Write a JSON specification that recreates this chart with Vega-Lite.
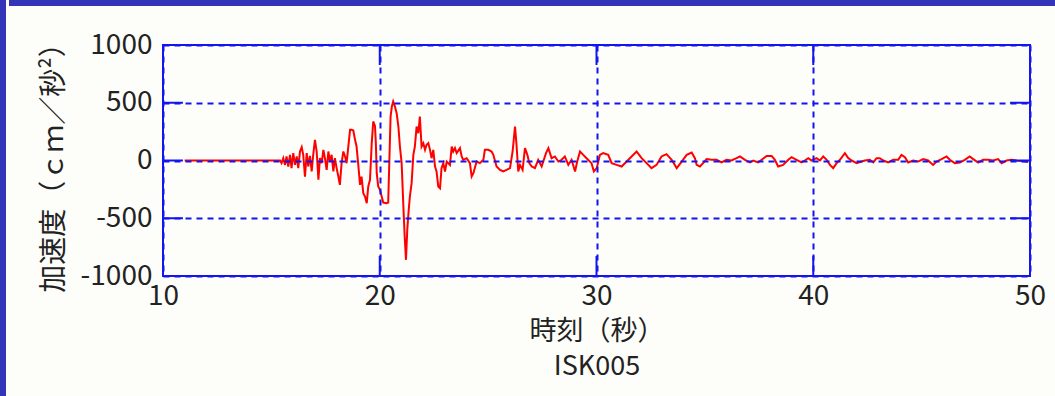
{
  "$schema": "https://vega.github.io/schema/vega-lite/v6.json",
  "background": "#fdfdf9",
  "padding": 0,
  "spacing": 0,
  "config": {
    "font": "Noto Sans CJK JP",
    "view": {"stroke": null},
    "concat": {"spacing": 0}
  },
  "hconcat": [
    {
      "data": {"values": [{}]},
      "width": 6,
      "height": 396,
      "view": {"fill": "#3434b9", "stroke": null},
      "mark": {"type": "point", "opacity": 0}
    },
    {
      "spacing": 21,
      "vconcat": [
        {
          "data": {"values": [{}]},
          "width": 1049,
          "height": 6,
          "view": {"fill": "#3434b9", "stroke": null},
          "mark": {"type": "point", "opacity": 0}
        },
        {
          "spacing": 26,
          "hconcat": [
            {
              "data": {"values": [{}]},
              "width": 1,
              "height": 1,
              "mark": {"type": "point", "opacity": 0}
            },
            {
              "width": 867,
              "height": 231,
              "view": {"stroke": "#1414f0", "strokeWidth": 2},
              "layer": [
                {
                  "data": {"values": [
                    {"t": 11.0, "a": 0}, {"t": 15.40, "a": 0}, {"t": 15.47, "a": -23}, {"t": 15.55, "a": 20},
                    {"t": 15.63, "a": -38}, {"t": 15.70, "a": 35}, {"t": 15.78, "a": -52}, {"t": 15.86, "a": 49},
                    {"t": 15.93, "a": -66}, {"t": 16.01, "a": 64}, {"t": 16.09, "a": -38}, {"t": 16.17, "a": 35},
                    {"t": 16.24, "a": -66}, {"t": 16.32, "a": 78}, {"t": 16.40, "a": 115}, {"t": 16.47, "a": 49},
                    {"t": 16.55, "a": -139}, {"t": 16.63, "a": 64}, {"t": 16.70, "a": -52}, {"t": 16.78, "a": 40},
                    {"t": 16.86, "a": -95}, {"t": 16.93, "a": 49}, {"t": 17.01, "a": 179}, {"t": 17.09, "a": 78},
                    {"t": 17.17, "a": -167}, {"t": 17.24, "a": 20}, {"t": 17.32, "a": -23}, {"t": 17.40, "a": 92},
                    {"t": 17.47, "a": 20}, {"t": 17.55, "a": -81}, {"t": 17.63, "a": 78}, {"t": 17.70, "a": -9},
                    {"t": 17.78, "a": 49}, {"t": 17.86, "a": -95}, {"t": 17.93, "a": 20}, {"t": 18.01, "a": -66},
                    {"t": 18.09, "a": -139}, {"t": 18.16, "a": -211}, {"t": 18.24, "a": -23}, {"t": 18.32, "a": 78},
                    {"t": 18.40, "a": 35}, {"t": 18.47, "a": -23}, {"t": 18.55, "a": 121}, {"t": 18.63, "a": 266},
                    {"t": 18.70, "a": 266}, {"t": 18.78, "a": 260}, {"t": 18.86, "a": 179}, {"t": 18.93, "a": 121},
                    {"t": 19.01, "a": -38}, {"t": 19.09, "a": -211}, {"t": 19.16, "a": -139}, {"t": 19.24, "a": -283},
                    {"t": 19.32, "a": -312}, {"t": 19.40, "a": -370}, {"t": 19.47, "a": -225}, {"t": 19.55, "a": -167},
                    {"t": 19.63, "a": 150}, {"t": 19.70, "a": 338}, {"t": 19.78, "a": 300}, {"t": 19.82, "a": 150},
                    {"t": 19.86, "a": -110}, {"t": 19.93, "a": -225}, {"t": 20.01, "a": -254}, {"t": 20.09, "a": -312},
                    {"t": 20.16, "a": -364}, {"t": 20.32, "a": -370}, {"t": 20.39, "a": -364}, {"t": 20.44, "a": -23},
                    {"t": 20.50, "a": 381}, {"t": 20.56, "a": 468}, {"t": 20.62, "a": 511}, {"t": 20.70, "a": 468},
                    {"t": 20.78, "a": 410}, {"t": 20.86, "a": 294}, {"t": 20.93, "a": 121}, {"t": 21.01, "a": -23},
                    {"t": 21.09, "a": -398}, {"t": 21.15, "a": -658}, {"t": 21.21, "a": -860}, {"t": 21.27, "a": -600},
                    {"t": 21.33, "a": -442}, {"t": 21.39, "a": -312}, {"t": 21.47, "a": -196}, {"t": 21.55, "a": 49},
                    {"t": 21.62, "a": 121}, {"t": 21.70, "a": 294}, {"t": 21.78, "a": 237}, {"t": 21.85, "a": 381},
                    {"t": 21.93, "a": 121}, {"t": 22.01, "a": 150}, {"t": 22.09, "a": 92}, {"t": 22.16, "a": 136},
                    {"t": 22.24, "a": 150}, {"t": 22.32, "a": 92}, {"t": 22.39, "a": 20}, {"t": 22.47, "a": 92},
                    {"t": 22.55, "a": -52}, {"t": 22.62, "a": -95}, {"t": 22.70, "a": -225}, {"t": 22.78, "a": -240},
                    {"t": 22.85, "a": -66}, {"t": 22.93, "a": -23}, {"t": 23.01, "a": -95}, {"t": 23.09, "a": -9},
                    {"t": 23.24, "a": -38}, {"t": 23.32, "a": 121}, {"t": 23.39, "a": 78}, {"t": 23.47, "a": 107},
                    {"t": 23.55, "a": 64}, {"t": 23.70, "a": 107}, {"t": 23.78, "a": 35}, {"t": 23.85, "a": 6},
                    {"t": 24.01, "a": 20}, {"t": 24.16, "a": -23}, {"t": 24.24, "a": -139}, {"t": 24.32, "a": -110},
                    {"t": 24.47, "a": -9}, {"t": 24.62, "a": -23}, {"t": 24.78, "a": 6}, {"t": 24.85, "a": 92},
                    {"t": 25.01, "a": 92}, {"t": 25.16, "a": 78}, {"t": 25.24, "a": 49}, {"t": 25.39, "a": -52},
                    {"t": 25.55, "a": -81}, {"t": 25.70, "a": -95}, {"t": 25.85, "a": -81}, {"t": 26.01, "a": -66},
                    {"t": 26.13, "a": 78}, {"t": 26.24, "a": 294}, {"t": 26.31, "a": 136}, {"t": 26.39, "a": -95},
                    {"t": 26.47, "a": -38}, {"t": 26.59, "a": -81}, {"t": 26.70, "a": 107}, {"t": 26.81, "a": 49},
                    {"t": 26.90, "a": -23}, {"t": 27.01, "a": -52}, {"t": 27.16, "a": -66}, {"t": 27.31, "a": 6},
                    {"t": 27.47, "a": -52}, {"t": 27.67, "a": 64}, {"t": 27.78, "a": 107}, {"t": 27.93, "a": 20},
                    {"t": 28.08, "a": 35}, {"t": 28.24, "a": -9}, {"t": 28.39, "a": 6}, {"t": 28.54, "a": 35},
                    {"t": 28.70, "a": -38}, {"t": 28.85, "a": 6}, {"t": 29.01, "a": -95}, {"t": 29.11, "a": -9},
                    {"t": 29.24, "a": 78}, {"t": 29.39, "a": 49}, {"t": 29.54, "a": 20}, {"t": 29.77, "a": -23},
                    {"t": 29.88, "a": -95}, {"t": 30.01, "a": -66}, {"t": 30.16, "a": 49}, {"t": 30.31, "a": 64},
                    {"t": 30.54, "a": 49}, {"t": 30.70, "a": -23}, {"t": 30.93, "a": -38}, {"t": 31.16, "a": -52},
                    {"t": 31.39, "a": -9}, {"t": 31.62, "a": 35}, {"t": 31.85, "a": 78}, {"t": 32.08, "a": 20},
                    {"t": 32.31, "a": -23}, {"t": 32.54, "a": -66}, {"t": 32.77, "a": -38}, {"t": 33.00, "a": 35},
                    {"t": 33.23, "a": 55}, {"t": 33.47, "a": 6}, {"t": 33.70, "a": -66}, {"t": 33.93, "a": -9},
                    {"t": 34.16, "a": 49}, {"t": 34.39, "a": 69}, {"t": 34.54, "a": 20}, {"t": 34.62, "a": -38},
                    {"t": 34.77, "a": -52}, {"t": 34.92, "a": -23}, {"t": 35.08, "a": 12}, {"t": 35.31, "a": 6},
                    {"t": 35.54, "a": 6}, {"t": 35.77, "a": -17}, {"t": 36.00, "a": 6}, {"t": 36.23, "a": 0},
                    {"t": 36.46, "a": 20}, {"t": 36.62, "a": 35}, {"t": 36.85, "a": 6}, {"t": 37.08, "a": -17},
                    {"t": 37.23, "a": 0}, {"t": 37.46, "a": -17}, {"t": 37.62, "a": 6}, {"t": 37.85, "a": 40},
                    {"t": 38.08, "a": 40}, {"t": 38.23, "a": 6}, {"t": 38.38, "a": -52}, {"t": 38.61, "a": -38},
                    {"t": 38.85, "a": 6}, {"t": 39.00, "a": 29}, {"t": 39.23, "a": 6}, {"t": 39.46, "a": -17},
                    {"t": 39.61, "a": 0}, {"t": 39.77, "a": 20}, {"t": 39.92, "a": 0}, {"t": 40.15, "a": 20},
                    {"t": 40.31, "a": 0}, {"t": 40.46, "a": 35}, {"t": 40.62, "a": 6}, {"t": 40.77, "a": -38},
                    {"t": 40.92, "a": -66}, {"t": 41.08, "a": -23}, {"t": 41.23, "a": 6}, {"t": 41.46, "a": 64},
                    {"t": 41.62, "a": 20}, {"t": 41.77, "a": 0}, {"t": 42.00, "a": -23}, {"t": 42.23, "a": -9},
                    {"t": 42.38, "a": 0}, {"t": 42.61, "a": 6}, {"t": 42.77, "a": -17}, {"t": 42.92, "a": 20},
                    {"t": 43.07, "a": 20}, {"t": 43.23, "a": 0}, {"t": 43.46, "a": -17}, {"t": 43.69, "a": 6},
                    {"t": 43.92, "a": 6}, {"t": 44.07, "a": 49}, {"t": 44.23, "a": 29}, {"t": 44.38, "a": -17},
                    {"t": 44.61, "a": 0}, {"t": 44.84, "a": -9}, {"t": 45.07, "a": 12}, {"t": 45.30, "a": 0},
                    {"t": 45.53, "a": -38}, {"t": 45.69, "a": -9}, {"t": 45.92, "a": 12}, {"t": 46.15, "a": 35},
                    {"t": 46.30, "a": 6}, {"t": 46.53, "a": -23}, {"t": 46.76, "a": -17}, {"t": 46.99, "a": 6},
                    {"t": 47.22, "a": 35}, {"t": 47.38, "a": 12}, {"t": 47.61, "a": -17}, {"t": 47.84, "a": 6},
                    {"t": 48.07, "a": 6}, {"t": 48.30, "a": 0}, {"t": 48.53, "a": 12}, {"t": 48.69, "a": -23},
                    {"t": 48.92, "a": 0}, {"t": 49.15, "a": 6}, {"t": 49.38, "a": 0}, {"t": 49.69, "a": -6},
                    {"t": 49.92, "a": -12}
                  ]},
                  "mark": {"type": "line", "color": "#ff0000", "strokeWidth": 2, "clip": true},
                  "encoding": {
                    "x": {
                      "field": "t",
                      "type": "quantitative",
                      "scale": {"domain": [10, 50], "nice": false, "zero": false},
                      "axis": {
                        "values": [10, 20, 30, 40, 50],
                        "grid": true,
                        "gridColor": "#1414f0",
                        "gridDash": [6, 5],
                        "gridWidth": 2,
                        "domain": false,
                        "ticks": false,
                        "labelPadding": 6,
                        "labelFontSize": 28,
                        "labelColor": "#222222",
                        "labelFlush": false,
                        "labelOverlap": false,
                        "labelExpr": "'' + datum.value",
                        "title": ["時刻（秒）", "ISK005"],
                        "titleFontSize": 27,
                        "titleFontWeight": "normal",
                        "titleColor": "#222222",
                        "titleLineHeight": 35,
                        "titlePadding": 8,
                        "zindex": 1
                      }
                    },
                    "y": {
                      "field": "a",
                      "type": "quantitative",
                      "scale": {"domain": [-1000, 1000], "nice": false},
                      "axis": {
                        "values": [-1000, -500, 0, 500, 1000],
                        "grid": true,
                        "gridColor": "#1414f0",
                        "gridDash": [6, 5],
                        "gridWidth": 2,
                        "domain": false,
                        "ticks": false,
                        "labelPadding": 11,
                        "labelFontSize": 28,
                        "labelColor": "#222222",
                        "labelFlush": false,
                        "labelOverlap": false,
                        "labelExpr": "'' + datum.value",
                        "title": "加速度（ｃｍ／秒²）",
                        "titleFontSize": 28,
                        "titleFontWeight": "normal",
                        "titleColor": "#222222",
                        "titlePadding": 12,
                        "zindex": 1
                      }
                    }
                  }
                },
                {
                  "data": {"values": [{"v": -500}, {"v": 0}, {"v": 500}]},
                  "mark": {"type": "rule", "color": "#1414f0", "strokeWidth": 2},
                  "encoding": {
                    "y": {"field": "v", "type": "quantitative", "axis": null},
                    "x": {"datum": 10, "type": "quantitative", "axis": null},
                    "x2": {"datum": 10.92}
                  }
                },
                {
                  "data": {"values": [{"v": -500}, {"v": 0}, {"v": 500}]},
                  "mark": {"type": "rule", "color": "#1414f0", "strokeWidth": 2},
                  "encoding": {
                    "y": {"field": "v", "type": "quantitative", "axis": null},
                    "x": {"datum": 49.08, "type": "quantitative", "axis": null},
                    "x2": {"datum": 50}
                  }
                },
                {
                  "data": {"values": [{"v": 20}, {"v": 30}, {"v": 40}]},
                  "mark": {"type": "rule", "color": "#1414f0", "strokeWidth": 2},
                  "encoding": {
                    "x": {"field": "v", "type": "quantitative", "axis": null},
                    "y": {"datum": -1000, "type": "quantitative", "axis": null},
                    "y2": {"datum": -827}
                  }
                },
                {
                  "data": {"values": [{"v": 20}, {"v": 30}, {"v": 40}]},
                  "mark": {"type": "rule", "color": "#1414f0", "strokeWidth": 2},
                  "encoding": {
                    "x": {"field": "v", "type": "quantitative", "axis": null},
                    "y": {"datum": 827, "type": "quantitative", "axis": null},
                    "y2": {"datum": 1000}
                  }
                }
              ],
              "resolve": {"axis": {"x": "independent", "y": "independent"}}
            }
          ]
        }
      ]
    }
  ]
}
